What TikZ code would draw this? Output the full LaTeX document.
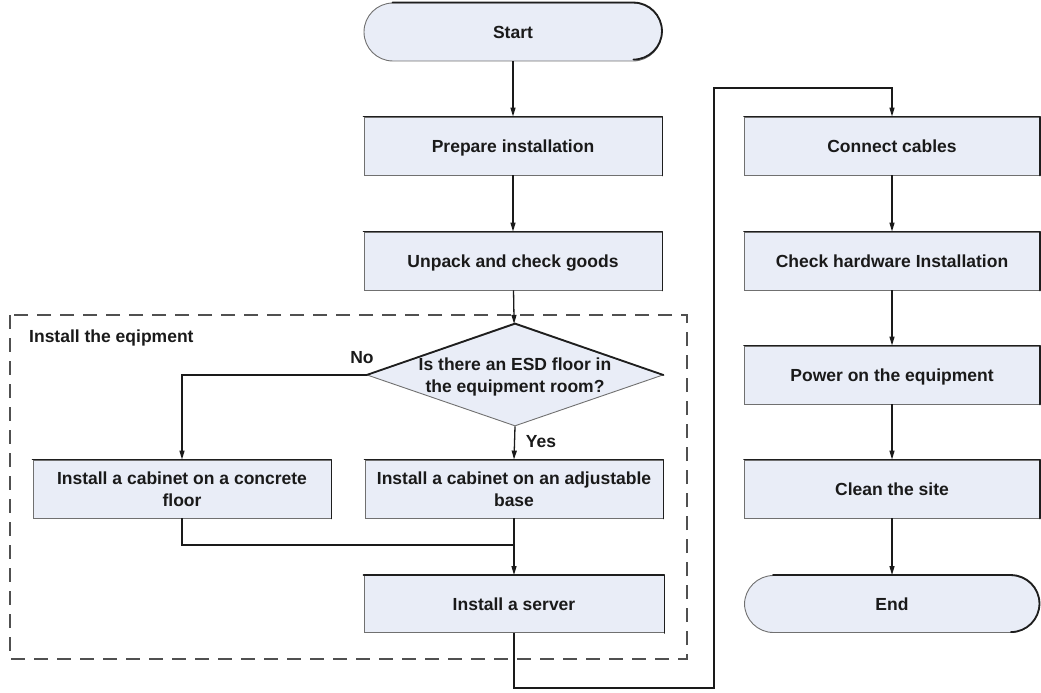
\documentclass[tikz,border=0pt]{standalone}
\usepackage{fontspec}
\setmainfont{Liberation Sans}
\usepackage{tikz}
\usetikzlibrary{arrows.meta,positioning,shapes.geometric}
\definecolor{flowfill}{HTML}{E9EDF7}
\definecolor{flowedge}{HTML}{707070}
\definecolor{flowdark}{HTML}{1E1E1E}
\definecolor{flowink}{HTML}{1A1A1A}
\definecolor{flowdash}{HTML}{505050}
\newcommand{\flowfont}{\fontsize{17.5}{22}\selectfont\bfseries}

\tikzset{
  stepbox/.style={rectangle, fill=flowfill, draw=flowedge, line width=0.9pt,
    minimum width=298pt, minimum height=58pt, inner sep=2pt, align=center,
    text height=12.5pt, text depth=0pt, text=flowink, font=\flowfont},
  twoline/.style={text height=34.5pt},
  endbox/.style={stepbox, rounded corners=29pt},
  askbox/.style={diamond, fill=flowfill, draw=flowedge, line width=0.9pt,
    minimum width=296pt, minimum height=102pt, inner sep=0pt},
  topedge/.style={flowdark, line width=1.8pt, line cap=round, line join=round},
  flow/.style={flowink, line width=1.3pt, -{Triangle[length=9pt,width=5pt]}},
  link/.style={flowink, line width=1.3pt},
  tag/.style={text=flowink, font=\flowfont, inner sep=0pt, text height=12.5pt, text depth=0pt},
}

\begin{document}
\begin{tikzpicture}[x=1pt, y=-1pt]
  \useasboundingbox (0,0) rectangle (1041,693);
  % installation stage
  \draw[flowdash, line width=1.3pt, dash pattern=on 14pt off 9pt] (10,315) rectangle (687,659);
  \node[tag, anchor=west] (stagelbl) at (29,336) {Install the eqipment};
  % left column
  \node[endbox] (start) at (513,32) {Start};
  \node[stepbox] (prep) at (513,146) {Prepare installation};
  \node[stepbox] (unpack) at (513,261) {Unpack and check goods};
  \node[askbox, label={[tag, twoline, align=center]center:Is there an ESD floor in\\the equipment room?}] (esd) at (515,375) {};
  \node[stepbox, twoline] (concrete) at (182,489) {Install a cabinet on a concrete\\floor};
  \node[stepbox, twoline] (adjust) at (514,489) {Install a cabinet on an adjustable\\base};
  \node[stepbox, minimum width=300pt, minimum height=57pt] (server) at (514,604) {Install a server};
  % right column
  \node[stepbox, minimum width=295pt] (cables) at (892,146) {Connect cables};
  \node[stepbox, minimum width=295pt] (check) at (892,261) {Check hardware Installation};
  \node[stepbox, minimum width=295pt] (power) at (892,375) {Power on the equipment};
  \node[stepbox, minimum width=295pt] (clean) at (892,489) {Clean the site};
  \node[endbox, minimum width=295pt, minimum height=57pt] (finish) at (892,604) {End};
  % darker top and right edges
  \foreach \n in {prep,unpack,concrete,adjust,server,cables,check,power,clean}
    \draw[topedge] (\n.north west) -- (\n.north east) -- (\n.south east);
  \foreach \n in {start,finish}
    \draw[topedge] ([xshift=29pt]\n.north west) -- ([xshift=-29pt]\n.north east)
      arc[start angle=90, end angle=-90, radius=28.5pt];
  \draw[topedge] (esd.west) -- (esd.north) -- (esd.east);
  % connectors
  \draw[flow] (start) -- (prep);
  \draw[flow] (prep) -- (unpack);
  \draw[flow] (unpack) -- (esd);
  \draw[flow] (esd.west) -| (concrete.north);
  \draw[flow] (esd.south) -- (adjust.north);
  \coordinate (join) at (514,545);
  \draw[link] (concrete.south) |- (join);
  \draw[flow] (adjust.south) -- (server.north);
  \coordinate (back) at (714,688);
  \coordinate (over) at (714,88);
  \draw[flow] (server.south) |- (back) -- (over) -| (cables.north);
  \draw[flow] (cables) -- (check);
  \draw[flow] (check) -- (power);
  \draw[flow] (power) -- (clean);
  \draw[flow] (clean) -- (finish);
  % branch labels
  \node[tag] (nolbl) at (362,357) {No};
  \node[tag] (yeslbl) at (541,441) {Yes};
\end{tikzpicture}
\end{document}
